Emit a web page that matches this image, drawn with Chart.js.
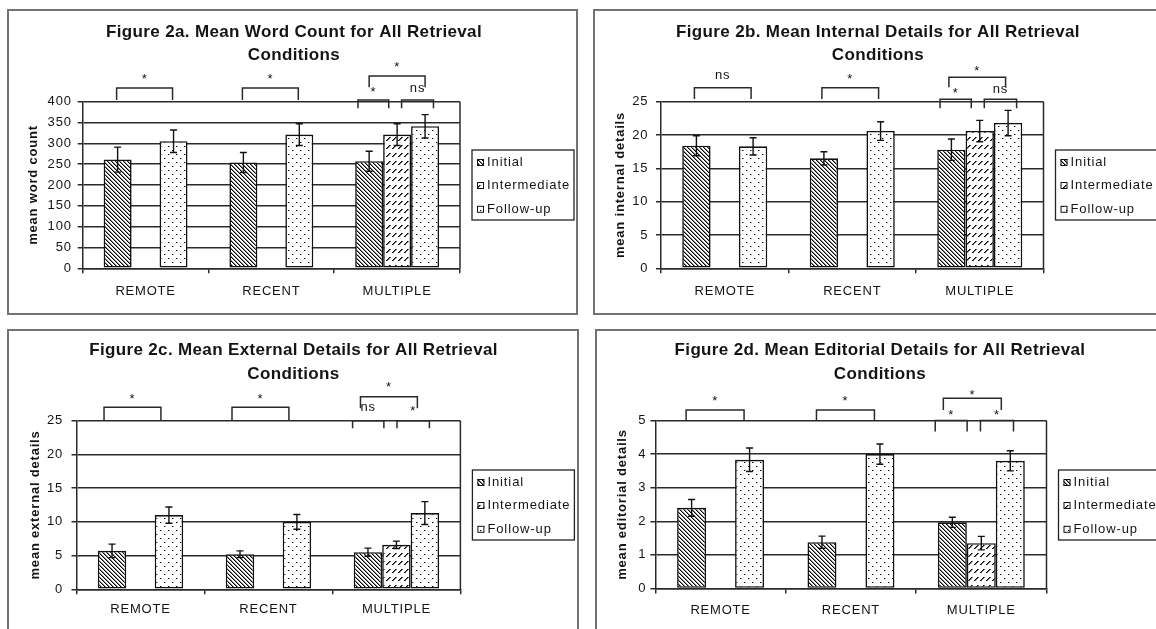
<!DOCTYPE html>
<html>
<head>
<meta charset="utf-8">
<title>Figure 2 – Retrieval Conditions</title>
<script src="https://cdn.jsdelivr.net/npm/chart.js@4/dist/chart.umd.min.js"></script>
<style>
  html, body { margin: 0; padding: 0; background: #fff; }
  body { position: relative; width: 1156px; height: 629px; overflow: hidden; }
  canvas { position: absolute; }
</style>
</head>
<body>
<canvas id="fig2a" width="571" height="306" style="left:7px;top:9px"></canvas>
<canvas id="fig2b" width="575" height="306" style="left:593px;top:9px"></canvas>
<canvas id="fig2c" width="572" height="310" style="left:7px;top:329px"></canvas>
<canvas id="fig2d" width="572" height="310" style="left:595px;top:329px"></canvas>
<script>
// ---- data ---------------------------------------------------------------
const categories  = ['REMOTE', 'RECENT', 'MULTIPLE'];
const seriesNames = ['Initial', 'Intermediate', 'Follow-up'];

// Figure 2a: word count
const wordInitial          = [261, 254, 257];
const wordInitialErr       = [30, 24, 24];
const wordIntermediate     = [null, null, 321];
const wordIntermediateErr  = [null, null, 26];
const wordFollowup         = [305, 321, 341];
const wordFollowupErr      = [27, 26, 28];
const wordTicks            = [0, 50, 100, 150, 200, 250, 300, 350, 400];

// Figure 2b: internal details
const internalInitial         = [18.4, 16.5, 17.8];
const internalInitialErr      = [1.5, 1.0, 1.6];
const internalIntermediate    = [null, null, 20.6];
const internalIntermediateErr = [null, null, 1.6];
const internalFollowup        = [18.3, 20.6, 21.8];
const internalFollowupErr     = [1.3, 1.4, 1.9];
const internalTicks           = [0, 5, 10, 15, 20, 25];

// Figure 2c: external details
const externalInitial         = [5.7, 5.2, 5.5];
const externalInitialErr      = [1.0, 0.5, 0.6];
const externalIntermediate    = [null, null, 6.6];
const externalIntermediateErr = [null, null, 0.55];
const externalFollowup        = [11.0, 10.0, 11.3];
const externalFollowupErr     = [1.2, 1.1, 1.7];
const externalTicks           = [0, 5, 10, 15, 20, 25];

// Figure 2d: editorial details
const editorialInitial         = [2.4, 1.38, 1.97];
const editorialInitialErr      = [0.25, 0.18, 0.15];
const editorialIntermediate    = [null, null, 1.35];
const editorialIntermediateErr = [null, null, 0.2];
const editorialFollowup        = [3.83, 4.0, 3.8];
const editorialFollowupErr     = [0.35, 0.3, 0.3];
const editorialTicks           = [0, 1, 2, 3, 4, 5];

// significance comparisons: [category, from series, to series, label, tier]
const wordSig      = [[0,0,2,'*','outer'],[1,0,2,'*','outer'],[2,0,1,'*','lowA'],[2,1,2,'ns','lowB'],[2,0,2,'*','high']];
const internalSig  = [[0,0,2,'ns','outer'],[1,0,2,'*','outer'],[2,0,1,'*','lowA'],[2,1,2,'ns','lowB'],[2,0,2,'*','high']];
const externalSig  = [[0,0,2,'*','outer'],[1,0,2,'*','outer'],[2,0,1,'ns','lowA'],[2,1,2,'*','lowB'],[2,0,2,'*','high']];
const editorialSig = [[0,0,2,'*','outer'],[1,0,2,'*','outer'],[2,0,1,'*','lowA'],[2,1,2,'*','lowB'],[2,0,2,'*','high']];

// ---- styling ------------------------------------------------------------
const FONT = '"Liberation Sans", Arial, Helvetica, sans-serif';
const INK = '#141414';
const LINE = '#2a2a2a';

function makeTile(w, h, paint) {
  const c = document.createElement('canvas');
  c.width = w; c.height = h;
  const g = c.getContext('2d');
  g.fillStyle = '#fff';
  g.fillRect(0, 0, w, h);
  paint(g);
  return g.createPattern(c, 'repeat');
}
function dot(g, x, y, col) { g.fillStyle = col; g.fillRect(x, y, 1, 1); }

// dense downward diagonal hatch
const hatchInitial = makeTile(4, 4, g => {
  for (let i = 0; i < 4; i++) { dot(g, i, i, '#000'); dot(g, (i + 1) % 4, i, '#858585'); }
});
// dashed upward diagonal: short "/" strokes in rows
const hatchIntermediate = makeTile(6, 8, g => {
  for (let r = 0; r < 4; r++) { dot(g, 4 - r, r, '#000'); dot(g, 5 - r, r, '#6a6a6a'); }
});
// sparse dots
const dotsFollowup = makeTile(8, 8, g => {
  dot(g, 1, 1, '#000'); dot(g, 2, 1, '#9a9a9a');
  dot(g, 5, 5, '#000'); dot(g, 6, 5, '#9a9a9a');
});
const fills = [hatchInitial, hatchIntermediate, dotsFollowup];

// bracket end nudges, in bar widths
const tierEnds = { outer: [0, 0], high: [0, 0], lowA: [-0.4, -0.3], lowB: [0.16, 0.3] };

function panelPlugin(cfg) {
  return {
    id: 'panel_' + cfg.id,
    beforeDraw(chart) {
      const { ctx, width, height } = chart;
      ctx.save();
      ctx.fillStyle = '#fff';
      ctx.fillRect(0, 0, width, height);
      ctx.strokeStyle = '#737373';
      ctx.lineWidth = 2;
      ctx.strokeRect(1, 1, width - 2, height - 2);
      ctx.restore();
      ctx.letterSpacing = '0.8px';
    },
    afterDatasetsDraw(chart) {
      const { ctx, chartArea: a } = chart;
      const y = chart.scales.y;
      ctx.save();
      // right edge of the plot area
      ctx.strokeStyle = LINE;
      ctx.lineWidth = 1.5;
      ctx.beginPath();
      ctx.moveTo(a.right, a.top);
      ctx.lineTo(a.right, a.bottom);
      ctx.stroke();
      // error bars
      ctx.strokeStyle = '#111';
      ctx.lineWidth = 1.4;
      chart.data.datasets.forEach((ds, di) => {
        chart.getDatasetMeta(di).data.forEach((bar, i) => {
          const v = ds.data[i], e = ds.errors[i];
          if (v == null || e == null) return;
          const yt = y.getPixelForValue(v + e), yb = y.getPixelForValue(v - e);
          const cap = 3.5;
          ctx.beginPath();
          ctx.moveTo(bar.x, yt); ctx.lineTo(bar.x, yb);
          ctx.moveTo(bar.x - cap, yt); ctx.lineTo(bar.x + cap, yt);
          ctx.moveTo(bar.x - cap, yb); ctx.lineTo(bar.x + cap, yb);
          ctx.stroke();
        });
      });
      ctx.restore();
    },
    afterDraw(chart) {
      const { ctx, chartArea: a } = chart;
      ctx.save();
      ctx.fillStyle = INK;

      // title
      ctx.letterSpacing = '0.35px';
      ctx.font = 'bold 17px ' + FONT;
      ctx.textAlign = 'center';
      ctx.textBaseline = 'middle';
      cfg.title.forEach((line, i) => ctx.fillText(line, cfg.titleX, cfg.titleY[i]));

      // significance brackets
      ctx.letterSpacing = '0.8px';
      ctx.strokeStyle = LINE;
      ctx.lineWidth = 1.5;
      ctx.font = '13px ' + FONT;
      ctx.textBaseline = 'alphabetic';
      cfg.sig.forEach(([cat, s0, s1, label, tier]) => {
        const key = tier.startsWith('low') ? 'low' : tier;
        const geo = cfg.tiers[key];
        const shift = cfg.shift[key];
        const b0 = chart.getDatasetMeta(s0).data[cat];
        const b1 = chart.getDatasetMeta(s1).data[cat];
        const [n0, n1] = tierEnds[tier];
        const x0 = b0.x + n0 * b0.width + shift;
        const x1 = b1.x + n1 * b1.width + shift;
        const top = a.top + geo.top, legs = a.top + geo.legs;
        ctx.beginPath();
        ctx.moveTo(x0, legs); ctx.lineTo(x0, top); ctx.lineTo(x1, top); ctx.lineTo(x1, legs);
        ctx.stroke();
        const base = a.top + geo.label + (label === '*' ? 7.5 : 3.5);
        ctx.fillText(label, (x0 + x1) / 2, base);
      });

      // legend
      const lx = a.right + 12, ly = 141, lw = 102, lh = 70;
      ctx.fillStyle = '#fff';
      ctx.fillRect(lx, ly, lw, lh);
      ctx.strokeStyle = '#222';
      ctx.lineWidth = 1.3;
      ctx.strokeRect(lx, ly, lw, lh);
      ctx.letterSpacing = '0.9px';
      ctx.font = '13px ' + FONT;
      ctx.textAlign = 'left';
      ctx.textBaseline = 'middle';
      const rows = [12.5, 35.5, 59.3];
      chart.data.datasets.forEach((ds, i) => {
        const ry = ly + rows[i];
        ctx.fillStyle = ds.backgroundColor;
        ctx.fillRect(lx + 5, ry - 3.5, 7, 7);
        ctx.strokeStyle = '#111';
        ctx.lineWidth = 1;
        ctx.strokeRect(lx + 5.5, ry - 3, 6, 6);
        ctx.fillStyle = INK;
        ctx.fillText(ds.label, lx + 15, ry);
      });
      ctx.restore();
    }
  };
}

function buildPanel(cfg) {
  const canvas = document.getElementById(cfg.id);
  const W = canvas.width, H = canvas.height;
  const datasets = cfg.values.map((vals, i) => ({
    label: seriesNames[i],
    data: vals,
    errors: cfg.errors[i],
    backgroundColor: fills[i],
    borderColor: '#111',
    borderWidth: 1.6,
    borderSkipped: false,
    categoryPercentage: 0.667,
    barPercentage: 1.0
  }));
  return new Chart(canvas, {
    type: 'bar',
    data: { labels: categories, datasets },
    options: {
      responsive: false,
      animation: false,
      devicePixelRatio: 1,
      events: [],
      layout: { padding: { left: 0, top: cfg.area.top, right: W - cfg.area.right, bottom: 0 } },
      plugins: { legend: { display: false }, title: { display: false }, tooltip: { enabled: false } },
      scales: {
        x: {
          grid: { offset: true, drawOnChartArea: false, drawTicks: true, tickLength: 5, color: LINE, lineWidth: 1.5 },
          border: { color: LINE, width: 1.5 },
          ticks: { font: { family: FONT, size: 13 }, color: INK, padding: cfg.xPad, maxRotation: 0 },
          afterFit(s) { s.height = H - cfg.area.bottom; }
        },
        y: {
          min: cfg.ticks[0],
          max: cfg.ticks[cfg.ticks.length - 1],
          afterBuildTicks(s) { s.ticks = cfg.ticks.map(v => ({ value: v })); },
          grid: { color: LINE, lineWidth: 1.5, tickLength: 5 },
          border: { color: LINE, width: 1.5 },
          ticks: { font: { family: FONT, size: 13 }, color: INK, padding: cfg.yPad },
          title: {
            display: true, text: cfg.yTitle, color: INK,
            font: { family: FONT, size: 13, weight: 'bold' },
            padding: { top: cfg.yTitleX - 7.8, bottom: 0 }
          },
          afterFit(s) { s.width = cfg.area.left; }
        }
      }
    },
    plugins: [panelPlugin(cfg)]
  });
}

buildPanel({
  id: 'fig2a',
  title: ['Figure 2a. Mean Word Count for All Retrieval', 'Conditions'],
  titleX: 287, titleY: [23, 46],
  yTitle: 'mean word count', yTitleX: 26,
  values: [wordInitial, wordIntermediate, wordFollowup],
  errors: [wordInitialErr, wordIntermediateErr, wordFollowupErr],
  ticks: wordTicks,
  area: { left: 75.7, right: 453, top: 92.7, bottom: 259.3 },
  xPad: 10.6, yPad: 6,
  sig: wordSig,
  tiers: { outer: { top: -13.7, legs: -1.7, label: -26.7 }, low: { top: -1.7, legs: 6.6, label: -13 }, high: { top: -25.7, legs: -14.4, label: -38.7 } },
  shift: { outer: -1, low: 0, high: 0 }
});

buildPanel({
  id: 'fig2b',
  title: ['Figure 2b. Mean Internal Details for All Retrieval', 'Conditions'],
  titleX: 285, titleY: [23, 46],
  yTitle: 'mean internal details', yTitleX: 27,
  values: [internalInitial, internalIntermediate, internalFollowup],
  errors: [internalInitialErr, internalIntermediateErr, internalFollowupErr],
  ticks: internalTicks,
  area: { left: 68, right: 450.5, top: 92.7, bottom: 259.3 },
  xPad: 10.6, yPad: 7.7,
  sig: internalSig,
  tiers: { outer: { top: -14, legs: -2.7, label: -26 }, low: { top: -2.4, legs: 6.6, label: -12.5 }, high: { top: -24.4, legs: -14.4, label: -34 } },
  shift: { outer: -2, low: 0, high: -2.5 }
});

buildPanel({
  id: 'fig2c',
  title: ['Figure 2c. Mean External Details for All Retrieval', 'Conditions'],
  titleX: 286.5, titleY: [21.5, 45],
  yTitle: 'mean external details', yTitleX: 28,
  values: [externalInitial, externalIntermediate, externalFollowup],
  errors: [externalInitialErr, externalIntermediateErr, externalFollowupErr],
  ticks: externalTicks,
  area: { left: 69.5, right: 453.4, top: 91.7, bottom: 260.3 },
  xPad: 7.2, yPad: 8.4,
  sig: externalSig,
  tiers: { outer: { top: -13.4, legs: -0.7, label: -25.7 }, low: { top: 0, legs: 7.6, label: -13.5 }, high: { top: -24, legs: -12.4, label: -37.4 } },
  shift: { outer: -8, low: -4, high: -7.5 }
});

buildPanel({
  id: 'fig2d',
  title: ['Figure 2d. Mean Editorial Details for All Retrieval', 'Conditions'],
  titleX: 285, titleY: [21.5, 45],
  yTitle: 'mean editorial details', yTitleX: 27.3,
  values: [editorialInitial, editorialIntermediate, editorialFollowup],
  errors: [editorialInitialErr, editorialIntermediateErr, editorialFollowupErr],
  ticks: editorialTicks,
  area: { left: 60.4, right: 451.5, top: 91.5, bottom: 259.5 },
  xPad: 8.7, yPad: 4.2,
  sig: editorialSig,
  tiers: { outer: { top: -10.5, legs: 0.5, label: -22.8 }, low: { top: 0, legs: 11, label: -8.8 }, high: { top: -22.2, legs: -10.5, label: -28.8 } },
  shift: { outer: -5.5, low: -5.5, high: -9 }
});
</script>
</body>
</html>
